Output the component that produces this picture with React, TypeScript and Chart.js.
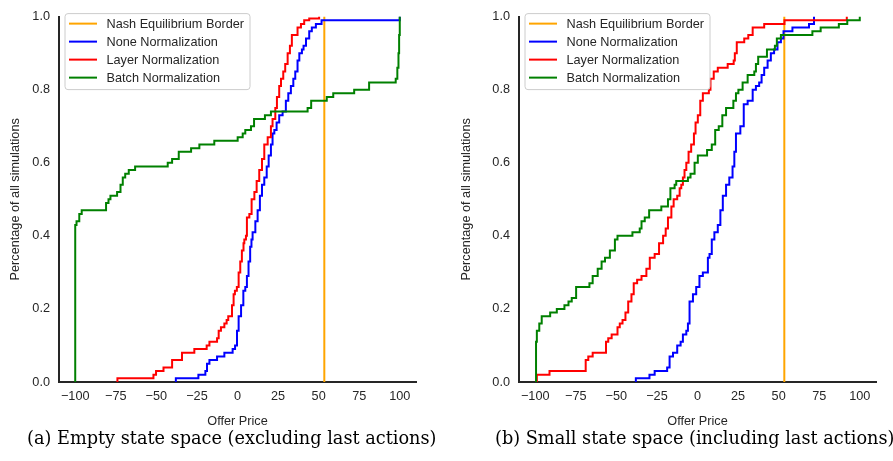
import React, { useEffect, useRef } from 'react';
import { Chart, registerables } from 'chart.js';

Chart.register(...registerables);

// ---------- shared ----------
const xTicks = [-100, -75, -50, -25, 0, 25, 50, 75, 100];
const yTicks = [0, 0.2, 0.4, 0.6, 0.8, 1.0];
const seriesLabels = ['Nash Equilibrium Border', 'None Normalization', 'Layer Normalization', 'Batch Normalization'];
const seriesColors = ['#FFA500', '#0000FF', '#FF0000', '#008000'];
const nashPrice = 53.5;
const nashY = [0, 1];
const xTitle = 'Offer Price';
const yTitle = 'Percentage of all simulations';

// ---------- (a) Empty state space ----------
const aNoneX = [-38, -38, -24.1, -19.8, -18.8, -17.3, -12.6, -8.1, -3.0, -1.5, -0.3, 0.7, 2.2, 3.6, 4.8, 5.8, 6.8, 7.8, 8.6, 9.3, 11.0, 12.4, 13.8, 15.1, 16.5, 18.0, 19.2, 20.6, 21.6, 22.7, 24.1, 25.7, 27.8, 29.8, 31.3, 32.9, 34.4, 35.6, 37.0, 38.1, 39.7, 40.7, 42.2, 44.2, 45.8, 48.3, 51.8, 100];
const aNoneY = [0, 0.01, 0.02, 0.03, 0.05, 0.06, 0.07, 0.08, 0.09, 0.10, 0.14, 0.18, 0.21, 0.25, 0.26, 0.29, 0.33, 0.37, 0.39, 0.41, 0.44, 0.47, 0.51, 0.54, 0.56, 0.59, 0.62, 0.65, 0.68, 0.69, 0.71, 0.73, 0.74, 0.77, 0.79, 0.81, 0.83, 0.85, 0.88, 0.90, 0.91, 0.92, 0.94, 0.96, 0.97, 0.98, 0.99, 1.0];
const aLayerX = [-74, -74, -51.8, -50.2, -45.6, -40.3, -34.2, -26.6, -19.0, -17.3, -12.6, -11.6, -10.2, -8.1, -6.7, -5.7, -3.4, -2.4, -1.6, -0.4, 0.7, 1.7, 2.7, 3.7, 4.2, 5.2, 5.8, 7.3, 8.7, 10.4, 11.8, 13.4, 15.1, 16.5, 18.6, 20.6, 21.6, 23.3, 24.3, 25.7, 26.8, 28.2, 29.4, 30.9, 32.3, 33.5, 37.0, 39.1, 41.1, 44.2, 50.3];
const aLayerY = [0, 0.01, 0.02, 0.03, 0.04, 0.06, 0.08, 0.09, 0.10, 0.11, 0.12, 0.14, 0.15, 0.16, 0.17, 0.18, 0.21, 0.24, 0.25, 0.26, 0.30, 0.33, 0.36, 0.38, 0.39, 0.40, 0.45, 0.46, 0.50, 0.52, 0.55, 0.58, 0.61, 0.65, 0.67, 0.70, 0.72, 0.75, 0.78, 0.81, 0.83, 0.85, 0.87, 0.90, 0.92, 0.95, 0.97, 0.98, 0.99, 0.995, 1.0];
const aBatchX = [-100, -100, -99.2, -97.5, -96.0, -81.0, -79.5, -78.3, -74.2, -72.1, -70.7, -69.2, -67.0, -63.1, -43.0, -40.3, -36.2, -28.6, -23.5, -14.3, 0.1, 3.2, 4.8, 8.3, 10.2, 16.9, 20.6, 43.2, 45.4, 55.0, 59.0, 71.9, 81.1, 97.5, 98.5, 99.2, 99.6, 100];
const aBatchY = [0, 0.43, 0.44, 0.46, 0.47, 0.49, 0.50, 0.51, 0.52, 0.54, 0.56, 0.57, 0.58, 0.59, 0.60, 0.61, 0.63, 0.64, 0.65, 0.66, 0.67, 0.68, 0.69, 0.70, 0.72, 0.73, 0.74, 0.75, 0.77, 0.78, 0.79, 0.80, 0.82, 0.83, 0.86, 0.90, 0.95, 1.0];
const aCaption = '(a) Empty state space (excluding last actions)';

// ---------- (b) Small state space ----------
const bNoneX = [-38, -38, -29.6, -26.4, -18.7, -17.2, -15.1, -12.5, -10.4, -9.0, -6.9, -5.9, -4.9, -2.8, -0.8, 1.2, 3.3, 6.4, 7.4, 8.8, 10.4, 12.5, 14.1, 15.6, 17.6, 19.6, 21.6, 22.7, 23.7, 26.4, 28.5, 30.9, 34.0, 36.0, 38.0, 39.5, 41.1, 43.2, 45.2, 47.2, 49.3, 51.4, 53.0, 58.5, 68.7, 71.8];
const bNoneY = [0, 0.01, 0.02, 0.03, 0.04, 0.07, 0.08, 0.10, 0.11, 0.13, 0.14, 0.16, 0.22, 0.24, 0.26, 0.29, 0.30, 0.34, 0.35, 0.39, 0.41, 0.43, 0.47, 0.51, 0.54, 0.56, 0.59, 0.63, 0.68, 0.70, 0.76, 0.77, 0.80, 0.81, 0.82, 0.84, 0.86, 0.88, 0.90, 0.91, 0.93, 0.94, 0.96, 0.97, 0.98, 1.0];
const bLayerX = [-99, -99, -91.2, -68.9, -67.3, -64.6, -56.4, -55.0, -52.9, -49.3, -47.9, -46.2, -44.4, -42.7, -40.7, -39.3, -37.2, -34.5, -31.5, -29.4, -26.4, -23.7, -21.2, -19.6, -18.2, -16.1, -14.7, -12.5, -11.0, -10.0, -9.0, -8.0, -6.9, -5.5, -3.9, -2.2, -1.2, 0.2, 1.7, 3.3, 7.0, 8.0, 10.0, 12.5, 18.6, 22.3, 23.0, 24.2, 28.8, 31.3, 34.0, 41.1, 53.6, 92.0];
const bLayerY = [0, 0.02, 0.03, 0.06, 0.07, 0.08, 0.11, 0.12, 0.13, 0.15, 0.16, 0.17, 0.19, 0.22, 0.24, 0.27, 0.28, 0.29, 0.31, 0.34, 0.35, 0.38, 0.40, 0.42, 0.45, 0.48, 0.50, 0.51, 0.53, 0.54, 0.56, 0.58, 0.60, 0.63, 0.65, 0.68, 0.71, 0.73, 0.77, 0.79, 0.80, 0.83, 0.85, 0.86, 0.87, 0.88, 0.90, 0.93, 0.94, 0.95, 0.97, 0.98, 0.99, 1.0];
const bBatchX = [-99.5, -99.5, -99.0, -97.5, -96.0, -90.8, -86.7, -82.0, -79.5, -77.5, -74.8, -66.6, -64.6, -61.5, -59.1, -57.0, -54.0, -50.9, -49.3, -40.1, -35.6, -34.5, -32.5, -29.8, -22.3, -18.2, -16.7, -14.1, -13.1, -5.9, -4.3, -1.8, 0.2, 5.9, 8.8, 10.9, 13.1, 15.3, 17.6, 22.1, 23.7, 25.2, 27.8, 30.9, 35.0, 36.0, 37.4, 42.8, 47.7, 48.9, 51.4, 70.8, 75.9, 87.1, 92.3, 100];
const bBatchY = [0, 0.11, 0.14, 0.16, 0.18, 0.19, 0.20, 0.21, 0.22, 0.23, 0.26, 0.27, 0.29, 0.31, 0.33, 0.34, 0.36, 0.39, 0.40, 0.41, 0.42, 0.44, 0.45, 0.47, 0.48, 0.50, 0.53, 0.54, 0.55, 0.56, 0.57, 0.60, 0.62, 0.635, 0.65, 0.69, 0.70, 0.73, 0.75, 0.77, 0.79, 0.80, 0.82, 0.84, 0.85, 0.87, 0.89, 0.91, 0.92, 0.94, 0.95, 0.96, 0.97, 0.98, 0.99, 1.0];
const bCaption = '(b) Small state space (including last actions)';

// ---------- styling ----------
const SANS = "'Liberation Sans', Arial, sans-serif";
const SERIF = "'DejaVu Serif', serif";
const TEXT = '#262626';
const FONT_SIZE = 12.7;
const CANVAS_H = 432;

const pts = (xs: number[], ys: number[]) => xs.map((x, i) => ({ x, y: ys[i] }));

const boxLegend = {
  id: 'boxLegend',
  afterDraw(chart: any) {
    const { ctx, chartArea } = chart;
    const left = chartArea.left + 6;
    const top = chartArea.top - 3;
    const w = 185;
    const h = 76;
    const r = 3;
    ctx.save();
    ctx.beginPath();
    ctx.moveTo(left + r, top);
    ctx.lineTo(left + w - r, top);
    ctx.arcTo(left + w, top, left + w, top + r, r);
    ctx.lineTo(left + w, top + h - r);
    ctx.arcTo(left + w, top + h, left + w - r, top + h, r);
    ctx.lineTo(left + r, top + h);
    ctx.arcTo(left, top + h, left, top + h - r, r);
    ctx.lineTo(left, top + r);
    ctx.arcTo(left, top, left + r, top, r);
    ctx.closePath();
    ctx.fillStyle = 'rgba(255,255,255,0.8)';
    ctx.fill();
    ctx.strokeStyle = '#cccccc';
    ctx.lineWidth = 1;
    ctx.stroke();
    const ds = chart.data.datasets;
    ds.forEach((d: any, i: number) => {
      const y = top + 10 + i * 18;
      ctx.beginPath();
      ctx.strokeStyle = d.borderColor;
      ctx.lineWidth = 2;
      ctx.moveTo(left + 4, y);
      ctx.lineTo(left + 32, y);
      ctx.stroke();
      ctx.fillStyle = TEXT;
      ctx.font = `${FONT_SIZE}px ${SANS}`;
      ctx.textBaseline = 'middle';
      ctx.textAlign = 'left';
      ctx.fillText(d.label, left + 41.5, y + 0.5);
    });
    ctx.restore();
  },
};

type PanelProps = {
  left: number;
  width: number;
  yAxisWidth: number;
  padRight: number;
  yTitlePad: number;
  noneX: number[]; noneY: number[];
  layerX: number[]; layerY: number[];
  batchX: number[]; batchY: number[];
  caption: string;
  captionLeft: number;
};

function Panel(p: PanelProps) {
  const ref = useRef<HTMLCanvasElement>(null);
  useEffect(() => {
    const nashX = nashY.map(() => nashPrice);
    const data = [pts(nashX, nashY), pts(p.noneX, p.noneY), pts(p.layerX, p.layerY), pts(p.batchX, p.batchY)];
    const chart = new Chart(ref.current as HTMLCanvasElement, {
      type: 'line',
      data: {
        datasets: data.map((d, i) => ({
          label: seriesLabels[i],
          data: d,
          borderColor: seriesColors[i],
          backgroundColor: seriesColors[i],
          borderWidth: 2,
          pointRadius: 0,
          stepped: 'before' as const,
          fill: false,
          order: 3 - i,
        })),
      },
      options: {
        animation: false,
        responsive: false,
        devicePixelRatio: 1,
        layout: { padding: { left: 0, top: 13, right: p.padRight, bottom: 0 } },
        plugins: { legend: { display: false }, tooltip: { enabled: false } },
        scales: {
          x: {
            type: 'linear',
            min: -110,
            max: 110,
            afterBuildTicks: (s: any) => { s.ticks = xTicks.map((v) => ({ value: v })); },
            afterFit: (s: any) => { s.height = CANVAS_H - 382; },
            grid: { display: false, drawTicks: false },
            border: { display: true, color: TEXT, width: 2 },
            ticks: {
              padding: 7,
              color: TEXT,
              font: { family: SANS, size: FONT_SIZE },
              maxRotation: 0,
              autoSkip: false,
              callback: (v: any) => (Number(v) < 0 ? '\u2212' + Math.abs(Number(v)) : String(v)),
            },
            title: {
              display: true,
              text: xTitle,
              color: TEXT,
              font: { family: SANS, size: FONT_SIZE },
              padding: { top: 0, bottom: 3 },
            },
          },
          y: {
            type: 'linear',
            min: 0,
            max: 1,
            afterBuildTicks: (s: any) => { s.ticks = yTicks.map((v) => ({ value: v })); },
            afterFit: (s: any) => { s.width = p.yAxisWidth; },
            grid: { display: false, drawTicks: false },
            border: { display: true, color: TEXT, width: 2 },
            ticks: {
              padding: 9,
              color: TEXT,
              font: { family: SANS, size: FONT_SIZE },
              callback: (v: any) => Number(v).toFixed(1),
            },
            title: {
              display: true,
              text: yTitle,
              color: TEXT,
              font: { family: SANS, size: FONT_SIZE },
              padding: { top: p.yTitlePad, bottom: 0 },
            },
          },
        },
      },
      plugins: [boxLegend],
    } as any);
    return () => chart.destroy();
  }, []);
  return (
    <>
      <canvas
        ref={ref}
        width={p.width}
        height={CANVAS_H}
        style={{ position: 'absolute', left: p.left, top: 0, width: p.width, height: CANVAS_H, display: 'block' }}
      />
      <div
        style={{
          position: 'absolute',
          left: p.captionLeft,
          top: 430,
          fontFamily: SERIF,
          fontSize: '17.7px',
          lineHeight: 1,
          color: '#000',
          whiteSpace: 'nowrap',
        }}
      >
        {p.caption}
      </div>
    </>
  );
}

export default function App() {
  return (
    <div style={{ position: 'absolute', left: 0, top: 0, width: 893, height: 461, background: '#fff', overflow: 'hidden' }}>
      <Panel
        left={0}
        width={446}
        yAxisWidth={59}
        padRight={30}
        yTitlePad={7.4}
        noneX={aNoneX} noneY={aNoneY}
        layerX={aLayerX} layerY={aLayerY}
        batchX={aBatchX} batchY={aBatchY}
        caption={aCaption}
        captionLeft={27}
      />
      <Panel
        left={446}
        width={447}
        yAxisWidth={73}
        padRight={17}
        yTitlePad={12.4}
        noneX={bNoneX} noneY={bNoneY}
        layerX={bLayerX} layerY={bLayerY}
        batchX={bBatchX} batchY={bBatchY}
        caption={bCaption}
        captionLeft={495}
      />
    </div>
  );
}
